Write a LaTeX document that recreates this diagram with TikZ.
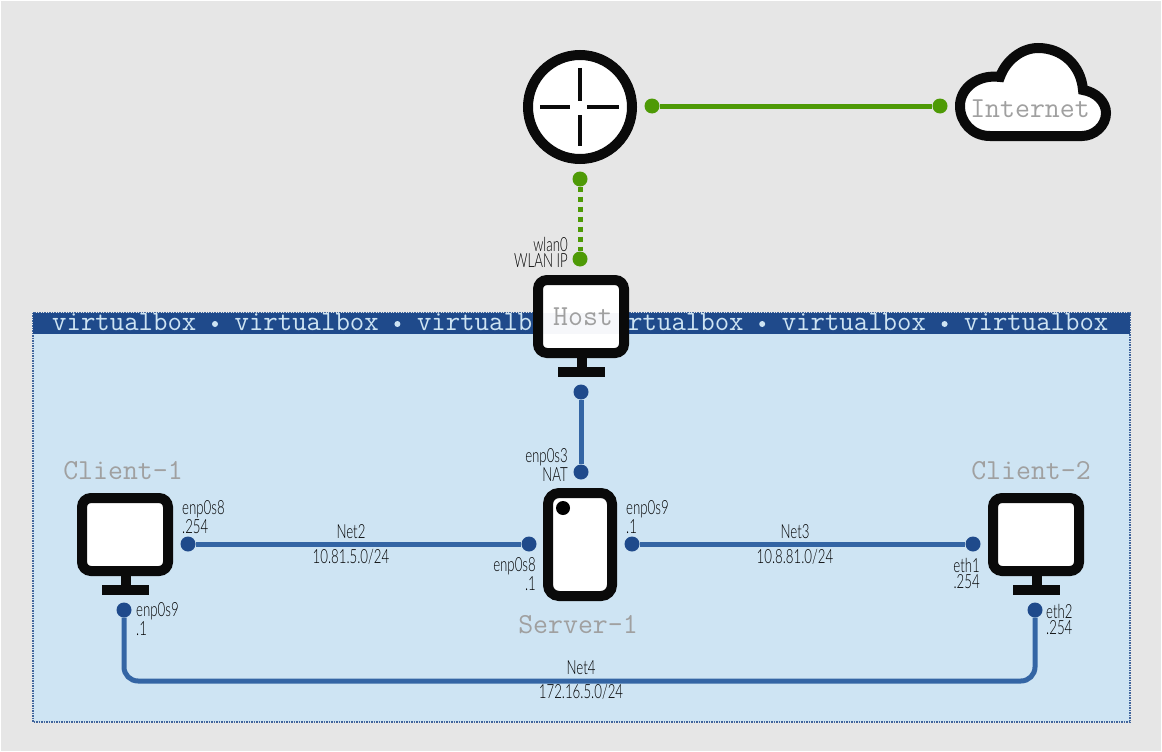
\documentclass[tikz,border=0pt]{standalone}
\usepackage{fontspec}
\usepackage{tikz}
\newfontfamily\portfont[FakeStretch=0.68]{Lato Light}
\definecolor{pagebg}{HTML}{E6E6E6}
\definecolor{vboxfill}{HTML}{CEE4F3}
\definecolor{vboxband}{HTML}{1F4A8B}
\definecolor{wireblue}{HTML}{3465A4}
\definecolor{wiregreen}{HTML}{4E9A06}
\definecolor{devblack}{HTML}{0A0A0A}
\definecolor{namegray}{HTML}{A0A0A0}
\tikzset{
    dev/.style={draw=devblack,line width=10pt,fill=white,outer sep=0pt},
    bluedot/.style={circle,fill=vboxband,minimum size=15pt,inner sep=0pt},
    greendot/.style={circle,fill=wiregreen,minimum size=15pt,inner sep=0pt},
    bluewire/.style={wireblue,line width=5pt},
    greenwire/.style={wiregreen,line width=5pt},
    devname/.style={font=\ttfamily\fontsize{29}{29}\selectfont,text=namegray,inner sep=0pt},
    bandtext/.style={font=\ttfamily\fontsize{28}{28}\selectfont,text=vboxfill,inner sep=0pt},
    portlabel/.style={font=\portfont\fontsize{19.5}{16}\selectfont,align=left,inner sep=0pt},
    portlabelr/.style={font=\portfont\fontsize{19.5}{16}\selectfont,align=right,inner sep=0pt},
    netlabel/.style={font=\portfont\fontsize{19.5}{16}\selectfont,inner sep=0pt},
}
\newcommand{\monitor}[3]{% left, top, name
    \fill[devblack] (#1+44,#2+83) rectangle (#1+54,#2+93);
    \fill[devblack] (#1+25,#2+92) rectangle (#1+72,#2+102);
    \node[dev,rounded corners=9pt,minimum width=86pt,minimum height=73pt,anchor=north west] (#3) at (#1+5,#2+5) {};
}
\begin{document}
\begin{tikzpicture}[x=1pt,y=-1pt]
    \useasboundingbox (0,0) rectangle (1162,752);
    \fill[pagebg] (1,1) rectangle (1161,751);
    % virtualbox area
    \draw[vboxband!85!white,fill=vboxfill,line width=1.5pt,densely dotted] (33,312.5) rectangle (1130,722);
    \fill[vboxband] (33,312.5) rectangle (1130,334);
    \foreach \i in {0,...,5}
        \node[bandtext,anchor=base west] (band\i) at (52+182.4*\i,330) {virtualbox};
    \foreach \i in {0,...,4}
        \fill[vboxfill] (215+182.4*\i,324) circle (3pt);

    % router
    \node[dev,circle,minimum size=104pt,inner sep=0pt] (router) at (580,107) {};
    \draw[devblack,line width=4pt] (580,68) -- (580,101);
    \draw[devblack,line width=4pt] (580,115) -- (580,146);
    \draw[devblack,line width=4pt] (540,107) -- (570,107);
    \draw[devblack,line width=4pt] (587,107) -- (619,107);

    % internet
    \draw[dev] (990,136) .. controls (972,136) and (960,122) .. (960,106)
        .. controls (960,88) and (978,74) .. (1000,77)
        .. controls (1006,60) and (1022,48) .. (1038,48)
        .. controls (1062,48) and (1081,65) .. (1083,90)
        .. controls (1096,92) and (1106,102) .. (1106,113)
        .. controls (1106,126) and (1094,136) .. (1082,136) -- cycle;
    \node[devname] (internet) at (1030,109) {Internet};

    % machines
    \monitor{533}{275}{host}
    \fill[vboxband,opacity=.04] (543,312.5) rectangle (619,334);
    \monitor{77}{493}{client1}
    \monitor{988}{493}{client2}
    \node[dev,rounded corners=11pt,minimum width=64pt,minimum height=103pt] (server) at (580,544.5) {};
    \fill[black] (563,508) circle (7pt);
    \node[devname] (hostname) at (583,317) {Host};
    \node[devname] (client1name) at (123,471) {Client-1};
    \node[devname] (client2name) at (1031,471) {Client-2};
    \node[devname] (servername) at (578,625) {Server-1};

    % ports
    \node[greendot] (rwan) at (652,106) {};
    \node[greendot] (inet) at (940,106) {};
    \node[greendot] (rlan) at (580,179) {};
    \node[greendot] (wlan) at (580,259) {};
    \node[bluedot] (hostp) at (581,392) {};
    \node[bluedot] (nat) at (581,472) {};
    \node[bluedot] (c1a) at (188,544) {};
    \node[bluedot] (s8) at (529,544) {};
    \node[bluedot] (s9) at (632,544) {};
    \node[bluedot] (c2a) at (973,544) {};
    \node[bluedot] (c1b) at (124,610) {};
    \node[bluedot] (c2b) at (1035,610) {};

    % wires
    \draw[greenwire] (rwan) -- (inet);
    \draw[wiregreen,line width=5pt,dash pattern=on 5pt off 5pt] (rlan) -- (wlan);
    \draw[bluewire] (hostp) -- (nat);
    \draw[bluewire] (c1a) -- (s8);
    \draw[bluewire] (s9) -- (c2a);
    \draw[bluewire,rounded corners=14pt] (c1b) -- (124,681) -- (1035,681) -- (c2b);

    % port labels
    \node[portlabelr,anchor=east] (wlanlabel) at (568,252) {wlan0\\WLAN IP};
    \node[portlabelr,anchor=east] (natlabel) at (568,465) {enp0s3\\NAT};
    \node[portlabel,anchor=west] (c1alabel) at (182,517) {enp0s8\\.254};
    \node[portlabel,anchor=west] (c1blabel) at (136,619) {enp0s9\\.1};
    \node[portlabelr,anchor=east] (s8label) at (536,574) {enp0s8\\.1};
    \node[portlabel,anchor=west] (s9label) at (626,517) {enp0s9\\.1};
    \node[portlabelr,anchor=east] (c2alabel) at (980,573) {eth1\\.254};
    \node[portlabel,anchor=west] (c2blabel) at (1046,619) {eth2\\.254};

    % net labels
    \node[netlabel] (net2) at (351,532) {Net2};
    \node[netlabel] (net2ip) at (351,557) {10.81.5.0/24};
    \node[netlabel] (net3) at (795,532) {Net3};
    \node[netlabel] (net3ip) at (795,557) {10.8.81.0/24};
    \node[netlabel] (net4) at (581,668) {Net4};
    \node[netlabel] (net4ip) at (581,692) {172.16.5.0/24};
\end{tikzpicture}
\end{document}
